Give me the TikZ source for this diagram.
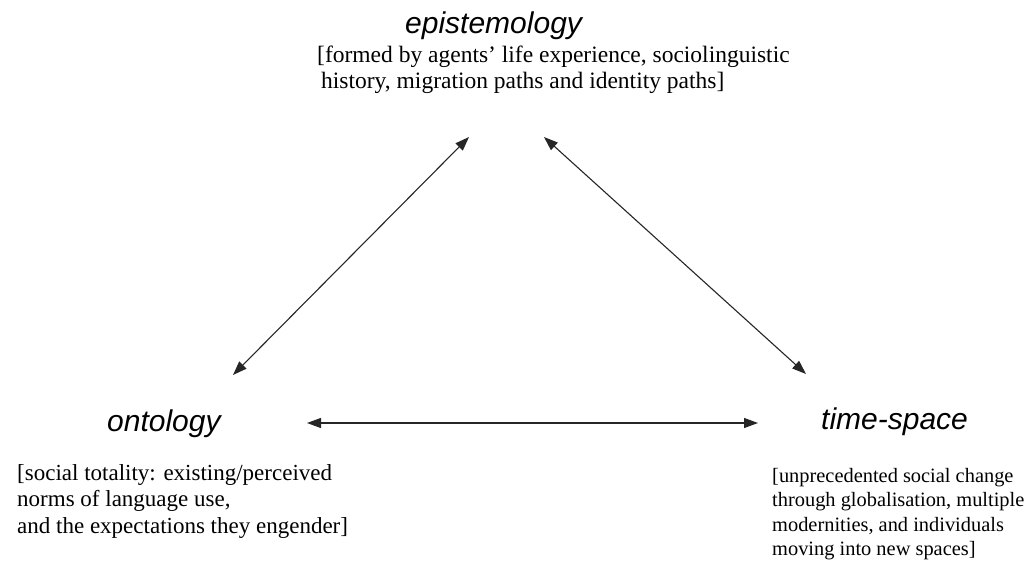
\documentclass[tikz,border=0pt]{standalone}
\usepackage{fontspec}
\setmainfont{Liberation Serif}
\setsansfont{Liberation Sans}
\usetikzlibrary{arrows.meta}
\begin{document}
\begin{tikzpicture}[x=1pt,y=-1pt,
  title/.style={font=\sffamily\itshape\fontsize{30}{30}\selectfont, inner sep=0pt, anchor=base west},
  desc/.style={align=left, inner sep=0pt, anchor=north west},
  link/.style={black!85, line width=1.1pt, {Triangle[length=14pt,width=10pt]}-{Triangle[length=14pt,width=10pt]}}]
\useasboundingbox[fill=white] (0,0) rectangle (1025,564);
% titles
\node[title] (epi) at (405,34) {epistemology};
\node[title] (ont) at (107,431) {ontology};
\node[title] (ts) at (821,429) {time-space};
% descriptions
\node[desc, font=\fontsize{23.5}{25.5}\selectfont] (epid) at (317,46) {[formed by agents’ life experience, sociolinguistic\\\hspace{4pt}history, migration paths and identity paths]};
\node[desc, font=\fontsize{23}{26.5}\selectfont] (ontd) at (17,464) {[social totality: existing/perceived\\norms of language use,\\and the expectations they engender]};
\node[desc, font=\fontsize{20.4}{24.4}\selectfont] (tsd) at (772,468) {[unprecedented social change\\through globalisation, multiple\\modernities, and individuals\\moving into new spaces]};
% arrow ends
\coordinate (eL) at (469,137);
\coordinate (eR) at (544,137);
\coordinate (oU) at (233,375);
\coordinate (tU) at (806,374);
\coordinate (oR) at (307,423);
\coordinate (tL) at (758,423);
\draw[link] (oU) -- (eL);
\draw[link] (eR) -- (tU);
\draw[link] (oR) -- (tL);
\end{tikzpicture}
\end{document}
